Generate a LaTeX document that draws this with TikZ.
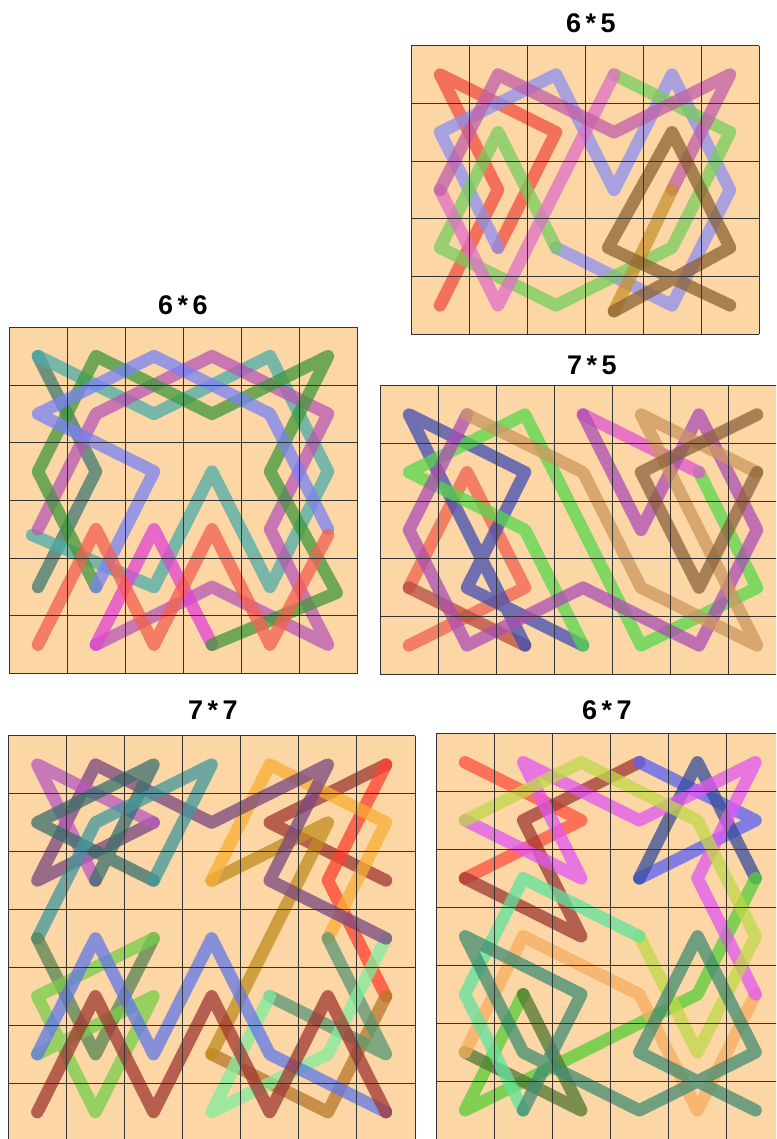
\documentclass[tikz,border=0pt]{standalone}
\usepackage{fontspec}
\setmainfont{Liberation Sans}
\definecolor{peach}{HTML}{FCD6A5}
\definecolor{gridc}{HTML}{333333}
% panel 6*5
\definecolor{aRed}{HTML}{F0503F}
\definecolor{aBlue}{HTML}{8C90F0}
\definecolor{aGreen}{HTML}{77CD5E}
\definecolor{aPink}{HTML}{E070C8}
\definecolor{aMauve}{HTML}{C060A8}
\definecolor{aTan}{HTML}{C8922D}
\definecolor{aBrown}{HTML}{8C6233}
% panel 6*6
\definecolor{bRed}{HTML}{F56050}
\definecolor{bBlue}{HTML}{7883F3}
\definecolor{bGreen}{HTML}{41983E}
\definecolor{bTeal}{HTML}{4CADA9}
\definecolor{bDTeal}{HTML}{417873}
\definecolor{bMauve}{HTML}{B758B4}
\definecolor{bPink}{HTML}{E243D3}
% panel 7*5
\definecolor{cRed}{HTML}{F06050}
\definecolor{cRedB}{HTML}{B74B41}
\definecolor{cInd}{HTML}{414DB3}
\definecolor{cGreen}{HTML}{57D84B}
\definecolor{cPink}{HTML}{E055D0}
\definecolor{cMauve}{HTML}{AC4DB4}
\definecolor{cTan}{HTML}{CC985E}
\definecolor{cBrown}{HTML}{8C623E}
% panel 7*7
\definecolor{dMag}{HTML}{B758C0}
\definecolor{dPur}{HTML}{7A4680}
\definecolor{dDTeal}{HTML}{39706C}
\definecolor{dTeal}{HTML}{41989E}
\definecolor{dOlive}{HTML}{578353}
\definecolor{dLime}{HTML}{77CD4B}
\definecolor{dBlue}{HTML}{6178E9}
\definecolor{dBrR}{HTML}{A13833}
\definecolor{dRed}{HTML}{FF4030}
\definecolor{dOrange}{HTML}{F7AE33}
\definecolor{dOchre}{HTML}{C18D1E}
\definecolor{dTan}{HTML}{B77829}
\definecolor{dGG}{HTML}{579873}
\definecolor{dLG}{HTML}{81ED9E}
% panel 6*7
\definecolor{eRed}{HTML}{FF5040}
\definecolor{eRedB}{HTML}{A13833}
\definecolor{eBlue}{HTML}{5A60F5}
\definecolor{eSlate}{HTML}{374D9E}
\definecolor{eLime}{HTML}{57CD37}
\definecolor{eOlive}{HTML}{4F7833}
\definecolor{eOrange}{HTML}{F7AD5F}
\definecolor{ePink}{HTML}{E158F3}
\definecolor{eYG}{HTML}{C1D849}
\definecolor{eMint}{HTML}{61E39E}
\definecolor{eGG}{HTML}{418D73}
\newcommand{\boardgrid}[2]{%
  \foreach \i in {0,...,#1} \draw[gridl] (\i-0.5,-0.5) -- (\i-0.5,#2-0.5);
  \foreach \j in {0,...,#2} \draw[gridl] (-0.5,\j-0.5) -- (#1-0.5,\j-0.5);}
\begin{document}
\begin{tikzpicture}[x=1pt,y=-1pt,
  trail/.style={line width=12.5pt,line cap=round,line join=round,draw opacity=0.75},
  gridl/.style={draw=gridc,line width=0.9pt},
  ttl/.style={font=\bfseries\fontsize{27}{29}\selectfont,inner sep=0pt,anchor=center}]
\useasboundingbox (0,0) rectangle (776,1139);
\fill[white] (0,0) rectangle (776,1139);
\clip (0,0) rectangle (776,1139);

% titles
\node[ttl] (t65) at (591,23) {6\,*\,5};
\node[ttl] (t66) at (183,305) {6\,*\,6};
\node[ttl] (t75) at (592,365) {7\,*\,5};
\node[ttl] (t77) at (213,710) {7\,*\,7};
\node[ttl] (t67) at (607,710) {6\,*\,7};

% ---------- 6*5 ----------
\begin{scope}[shift={(440,74.55)},x=58pt,y=-57.7pt]
\fill[peach] (-0.5,-0.5) rectangle (5.5,4.5);
\draw[trail,draw=aRed] (0,4) -- (1,2) -- (0,0) -- (2,1) -- (1,3);
\draw[trail,draw=aBlue] (1,3) -- (0,1) -- (2,0) -- (3,2) -- (4,0) -- (5,2) -- (4,4) -- (2,3);
\draw[trail,draw=aGreen] (2,3) -- (1,1) -- (0,3) -- (2,4) -- (4,3) -- (5,1) -- (3,0);
\draw[trail,draw=aPink] (3,0) -- (1,4) -- (0,2);
\draw[trail,draw=aMauve] (0,2) -- (1,0) -- (3,1) -- (5,0) -- (4,2);
\draw[trail,draw=aTan] (4,2) -- (3,4.1);
\draw[trail,draw=aBrown] (3,4.1) -- (5,3) -- (4,1) -- (2.9,3) -- (5,4);
\boardgrid{6}{5}
\end{scope}

% ---------- 6*6 ----------
\begin{scope}[shift={(38,356.15)},x=58pt,y=-57.7pt]
\fill[peach] (-0.5,-0.5) rectangle (5.5,5.5);
\draw[trail,draw=bDTeal] (0,4) -- (1,2) -- (0,0);
\draw[trail,draw=bTeal] (0,0) -- (2,1) -- (4,0) -- (5,2) -- (4,4) -- (3,2) -- (2,4) -- (-0.1,3.1);
\draw[trail,draw=bMauve] (0,3) -- (1,1) -- (3,0) -- (5,1) -- (4,3) -- (5,5) -- (3,4) -- (1,5);
\draw[trail,draw=bPink] (1,5) -- (2,3) -- (3,5);
\draw[trail,draw=bGreen] (3,5) -- (5.15,4.1) -- (4,2) -- (5,0) -- (3,1) -- (1,0) -- (0,2) -- (1,4);
\draw[trail,draw=bBlue] (1,4) -- (2,2) -- (0,1) -- (2,0) -- (4,1) -- (5,3);
\draw[trail,draw=bRed] (5,3.1) -- (4,5) -- (3,3) -- (2,5) -- (1,3) -- (0,5);
\boardgrid{6}{6}
\end{scope}

% ---------- 7*5 ----------
\begin{scope}[shift={(409,414.55)},x=58pt,y=-57.7pt]
\fill[peach] (-0.5,-0.5) rectangle (6.5,4.5);
\draw[trail,draw=cRed] (0,4) -- (2,3) -- (1,1) -- (0,3);
\draw[trail,draw=cRedB] (0,3) -- (2,4);
\draw[trail,draw=cInd] (2,4) -- (1,2) -- (0,0) -- (2,1) -- (1,3) -- (3,4);
\draw[trail,draw=cGreen] (3,4) -- (2,2) -- (0,1) -- (2,0) -- (3,2) -- (4,4) -- (6,3) -- (5,1);
\draw[trail,draw=cPink] (5,1) -- (3,0);
\draw[trail,draw=cMauve] (3,0) -- (4,2) -- (5,0) -- (6,2) -- (5,4) -- (3,3) -- (1,4) -- (0,2) -- (1,0);
\draw[trail,draw=cTan] (1,0) -- (3,1) -- (4,3) -- (6,4) -- (5,2) -- (4,0) -- (6,1);
\draw[trail,draw=cBrown] (6,1) -- (5,3) -- (4,1) -- (6,0);
\boardgrid{7}{5}
\end{scope}

% ---------- 7*7 ----------
\begin{scope}[shift={(37.35,764.65)},x=58.1pt,y=-57.9pt]
\fill[peach] (-0.5,-0.5) rectangle (6.5,6.5);
\draw[trail,draw=dBrR] (6,2) -- (4,1) -- (6,0);
\draw[trail,draw=dRed] (6,0) -- (5,2) -- (6,4);
\draw[trail,draw=dTan] (6,4) -- (5,6) -- (3,5);
\draw[trail,draw=dOchre] (3,5) -- (5,1) -- (3,2);
\draw[trail,draw=dOrange] (3,2) -- (4,0) -- (6,1) -- (5,3);
\draw[trail,draw=dGG] (5,3) -- (6,5) -- (4,4);
\draw[trail,draw=dLG] (4,4) -- (3,6) -- (5,5) -- (6,3);
\draw[trail,draw=dPur] (6,3) -- (4,2) -- (5,0) -- (3,1) -- (1,0) -- (0,2) -- (2,1);
\draw[trail,draw=dMag] (2,1) -- (0,0) -- (1,2);
\draw[trail,draw=dDTeal] (1,2) -- (2,0) -- (0,1) -- (2,2);
\draw[trail,draw=dTeal] (2,2) -- (3,0) -- (1,1) -- (0,3);
\draw[trail,draw=dOlive] (0,3) -- (1,5) -- (2,3);
\draw[trail,draw=dLime] (2,3) -- (0,4) -- (1,6) -- (2,4) -- (0,5);
\draw[trail,draw=dBlue] (0,5) -- (1,3) -- (2,5) -- (3,3) -- (4,5) -- (6,6);
\draw[trail,draw=dBrR] (6,6) -- (5,4) -- (4,6) -- (3,4) -- (2,6) -- (1,4) -- (0,6);
\boardgrid{7}{7}
\end{scope}

% ---------- 6*7 ----------
\begin{scope}[shift={(465.05,762.3)},x=58.1pt,y=-58pt]
\fill[peach] (-0.5,-0.5) rectangle (5.5,6.5);
\draw[trail,draw=eRed] (0,0) -- (2,1) -- (0,2);
\draw[trail,draw=eRedB] (0,2) -- (2,3) -- (1,1) -- (3,0);
\draw[trail,draw=eBlue] (3,0) -- (5,1) -- (3,2);
\draw[trail,draw=eSlate] (3,2) -- (4,0) -- (5,2);
\draw[trail,draw=eLime] (5,2) -- (4,4) -- (0,6) -- (1,4);
\draw[trail,draw=eOlive] (1,4) -- (2,6) -- (0,5);
\draw[trail,draw=eOrange] (0,5) -- (1,3) -- (3,4) -- (4,6) -- (5,4);
\draw[trail,draw=ePink] (5,4) -- (4,2) -- (5,0) -- (3,1) -- (1,0) -- (2,2) -- (0,1);
\draw[trail,draw=eYG] (0,1) -- (2,0) -- (4,1) -- (5,3) -- (4,5) -- (3,3);
\draw[trail,draw=eMint] (3,3) -- (1,2) -- (0,4) -- (1,6);
\draw[trail,draw=eGG] (1,6) -- (2,4) -- (0,3) -- (1,5) -- (3,6) -- (5,5) -- (4,3) -- (3,5) -- (5,6);
\boardgrid{6}{7}
\end{scope}
\end{tikzpicture}
\end{document}
